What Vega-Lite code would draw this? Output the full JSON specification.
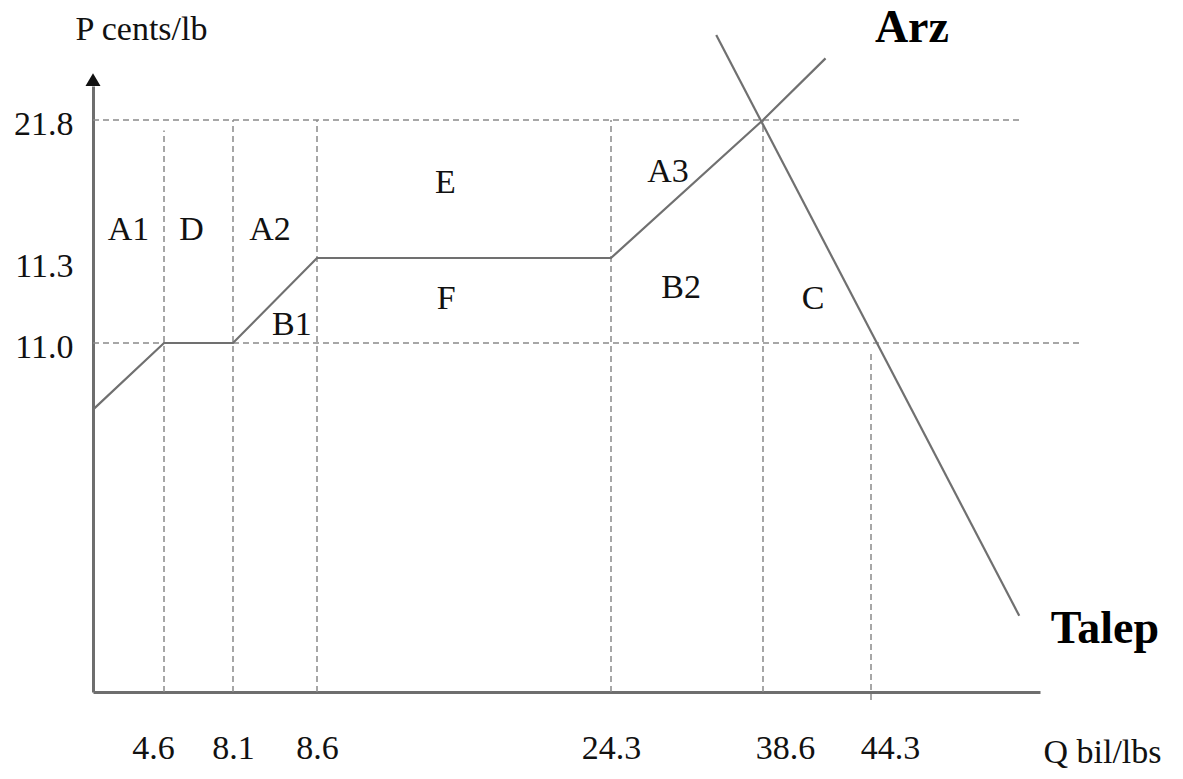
{
  "$schema": "https://vega.github.io/schema/vega-lite/v6.json",
  "width": 947,
  "height": 622,
  "autosize": {"type": "none"},
  "padding": {"left": 93, "top": 70, "right": 143, "bottom": 87},
  "background": "white",
  "config": {"view": {"stroke": null}, "font": "Liberation Serif"},
  "datasets": {
    "hguides": [
      {"q": 0, "q2": 49.3, "p": 21.8},
      {"q": 0, "q2": 51.4, "p": 11.0}
    ],
    "vguides": [
      {"q": 4.6, "p": 0, "p2": 21.0},
      {"q": 8.1, "p": 0, "p2": 21.8},
      {"q": 8.6, "p": 0, "p2": 21.8},
      {"q": 24.3, "p": 0, "p2": 21.8},
      {"q": 38.6, "p": 0, "p2": 21.8},
      {"q": 44.3, "p": -0.25, "p2": 10.7}
    ],
    "supply": [
      {"q": 0, "p": 8.9},
      {"q": 4.6, "p": 11.0},
      {"q": 8.1, "p": 11.0},
      {"q": 8.6, "p": 11.3},
      {"q": 24.3, "p": 11.3},
      {"q": 38.6, "p": 21.8},
      {"q": 41.9, "p": 27.6}
    ],
    "demand": [
      {"q": 34.2, "p": 29.8},
      {"q": 49.3, "p": 2.4}
    ],
    "arrow": [
      {"q": 0, "p": 25.6}
    ],
    "regions": [
      {"q": 2.3, "p": 12.7, "label": "A1"},
      {"q": 6.0, "p": 12.7, "label": "D"},
      {"q": 8.32, "p": 12.7, "label": "A2"},
      {"q": 8.45, "p": 11.03, "label": "B1"},
      {"q": 15.45, "p": 16.25, "label": "E"},
      {"q": 15.5, "p": 11.12, "label": "F"},
      {"q": 29.66, "p": 17.08, "label": "A3"},
      {"q": 30.89, "p": 11.16, "label": "B2"},
      {"q": 41.24, "p": 11.12, "label": "C"}
    ],
    "curves": [
      {"q": 45.68, "p": 29.14, "label": "Arz"},
      {"q": 52.19, "p": 1.54, "label": "Talep"}
    ]
  },
  "layer": [
    {
      "data": {"name": "hguides"},
      "mark": {"type": "rule", "stroke": "#8a8a8a", "strokeWidth": 1.5, "strokeDash": [6, 4]},
      "encoding": {
        "x": {
          "field": "q",
          "type": "quantitative",
          "scale": {
            "domain": [0, 4.6, 8.1, 8.6, 24.3, 38.6, 44.3, 50],
            "range": [0, 71, 140, 224, 518, 670, 778, 947],
            "zero": false,
            "nice": false
          },
          "axis": {
            "values": [4.6, 8.1, 8.6, 24.3, 38.6, 44.3],
            "format": ".1f",
            "title": "Q bil/lbs",
            "grid": false,
            "ticks": false,
            "tickSize": 0,
            "labelPadding": 66,
            "labelBaseline": "alphabetic",
            "labelAlign": "center",
            "labelFontSize": 34,
            "labelFont": "Liberation Serif",
            "labelColor": "#111111",
            "labelFlush": false,
            "labelOverlap": false,
            "labelBound": false,
            "labelOffset": {
              "condition": [
                {"test": "datum.value == 38.6", "value": 22},
                {"test": "datum.value == 44.3", "value": 19},
                {"test": "datum.value == 4.6", "value": -11}
              ],
              "value": 0
            },
            "domainColor": "#6e6e6e",
            "domainWidth": 3,
            "titleFont": "Liberation Serif",
            "titleFontSize": 34,
            "titleFontWeight": "normal",
            "titleColor": "#111111",
            "titleX": 1009,
            "titleY": 70,
            "titleAlign": "center",
            "titleBaseline": "alphabetic"
          }
        },
        "x2": {"field": "q2"},
        "y": {
          "field": "p",
          "type": "quantitative",
          "scale": {
            "domain": [0, 11.0, 11.3, 21.8, 25],
            "range": [622, 273, 188, 50, 16],
            "zero": false,
            "nice": false
          },
          "axis": {
            "values": [11.0, 11.3, 21.8],
            "format": ".1f",
            "title": "P cents/lb",
            "grid": false,
            "ticks": false,
            "tickSize": 0,
            "labelPadding": 20,
            "labelAlign": "right",
            "labelBaseline": "middle",
            "labelFontSize": 34,
            "labelFont": "Liberation Serif",
            "labelColor": "#111111",
            "labelFlush": false,
            "labelOverlap": false,
            "labelBound": false,
            "labelOffset": {
              "condition": {"test": "datum.value == 11.3", "value": 8},
              "value": 4
            },
            "domainColor": "#6e6e6e",
            "domainWidth": 3,
            "titleFont": "Liberation Serif",
            "titleFontSize": 34,
            "titleFontWeight": "normal",
            "titleColor": "#111111",
            "titleAngle": 0,
            "titleX": 48,
            "titleY": -31,
            "titleAlign": "center",
            "titleBaseline": "alphabetic"
          }
        }
      }
    },
    {
      "data": {"name": "vguides"},
      "mark": {"type": "rule", "stroke": "#8a8a8a", "strokeWidth": 1.5, "strokeDash": [6, 4]},
      "encoding": {
        "x": {"field": "q", "type": "quantitative"},
        "y": {"field": "p", "type": "quantitative"},
        "y2": {"field": "p2"}
      }
    },
    {
      "data": {"name": "supply"},
      "mark": {"type": "line", "stroke": "#707070", "strokeWidth": 2.2},
      "encoding": {
        "x": {"field": "q", "type": "quantitative"},
        "y": {"field": "p", "type": "quantitative"}
      }
    },
    {
      "data": {"name": "demand"},
      "mark": {"type": "line", "stroke": "#707070", "strokeWidth": 2.2},
      "encoding": {
        "x": {"field": "q", "type": "quantitative"},
        "y": {"field": "p", "type": "quantitative"}
      }
    },
    {
      "data": {"name": "arrow"},
      "mark": {"type": "point", "shape": "triangle-up", "size": 225, "filled": true, "fill": "#111111", "opacity": 1, "strokeWidth": 0},
      "encoding": {
        "x": {"field": "q", "type": "quantitative"},
        "y": {"field": "p", "type": "quantitative"}
      }
    },
    {
      "data": {"name": "regions"},
      "mark": {"type": "text", "font": "Liberation Serif", "fontSize": 34, "align": "center", "baseline": "alphabetic", "color": "#111111"},
      "encoding": {
        "x": {"field": "q", "type": "quantitative"},
        "y": {"field": "p", "type": "quantitative"},
        "text": {"field": "label"}
      }
    },
    {
      "data": {"name": "curves"},
      "mark": {"type": "text", "font": "Liberation Serif", "fontSize": 46, "fontWeight": "bold", "align": "center", "baseline": "alphabetic", "color": "#000000"},
      "encoding": {
        "x": {"field": "q", "type": "quantitative"},
        "y": {"field": "p", "type": "quantitative"},
        "text": {"field": "label"}
      }
    }
  ]
}
